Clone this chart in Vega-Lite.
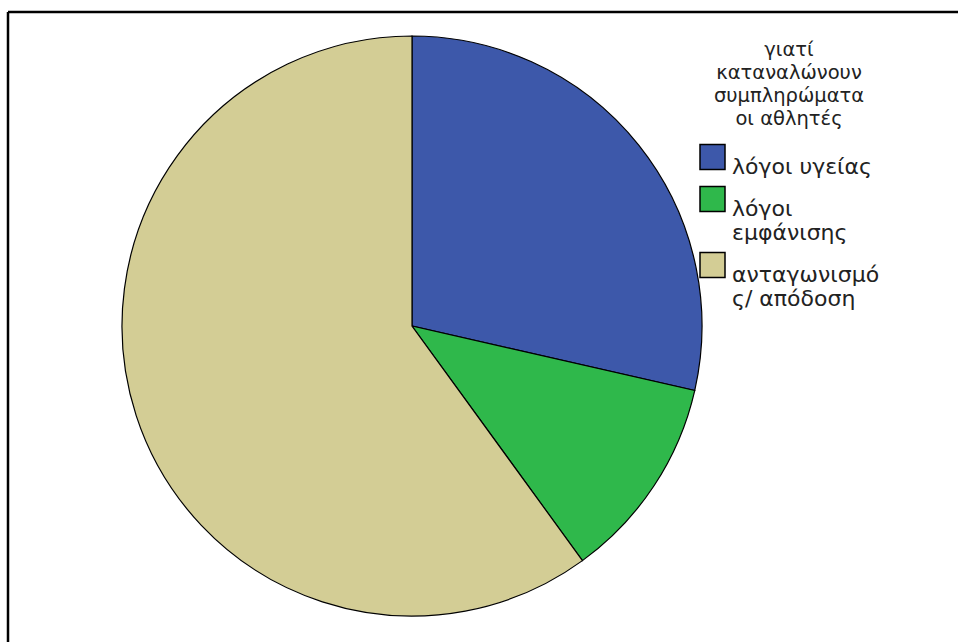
{
  "$schema": "https://vega.github.io/schema/vega-lite/v6.json",
  "width": 950,
  "height": 630,
  "autosize": {"type": "none"},
  "padding": {"left": 8, "top": 12, "right": 0, "bottom": 0},
  "background": "white",
  "view": {"stroke": "black", "strokeWidth": 2.5, "strokeDash": [950, 1580, 630, 0]},
  "config": {
    "view": {"stroke": "black", "strokeWidth": 2.5, "strokeDash": [950, 1580, 630, 0]},
    "font": "DejaVu Sans"
  },
  "data": {
    "values": [
      {"reason": "λόγοι υγείας", "count": 10, "order": 1},
      {"reason": "λόγοι εμφάνισης", "count": 4, "order": 2},
      {"reason": "ανταγωνισμός/ απόδοση", "count": 21, "order": 3}
    ]
  },
  "mark": {"type": "arc", "outerRadius": 290, "stroke": "black", "strokeWidth": 1.2, "x": 404, "y": 314},
  "encoding": {
    "theta": {"field": "count", "type": "quantitative", "stack": true},
    "order": {"field": "order", "type": "quantitative"},
    "color": {
      "field": "reason",
      "type": "nominal",
      "scale": {
        "domain": ["λόγοι υγείας", "λόγοι εμφάνισης", "ανταγωνισμός/ απόδοση"],
        "range": ["#3d58aa", "#2fb84b", "#d3cd95"]
      },
      "legend": {
        "orient": "none",
        "legendX": 691,
        "legendY": 29,
        "title": ["γιατί", "καταναλώνουν", "συμπληρώματα", "οι αθλητές"],
        "titleFontSize": 19.5,
        "titleFontWeight": "normal",
        "titleColor": "#222222",
        "titleAnchor": "middle",
        "titleAlign": "center",
        "titleLineHeight": 23,
        "titlePadding": 14,
        "labelFontSize": 22,
        "labelColor": "#222222",
        "labelLimit": 300,
        "labelOffset": 6,
        "labelBaseline": "top",
        "labelExpr": "datum.label == 'λόγοι εμφάνισης' ? ['λόγοι', 'εμφάνισης'] : datum.label == 'ανταγωνισμός/ απόδοση' ? ['ανταγωνισμό', 'ς/  απόδοση'] : datum.label",
        "symbolType": "square",
        "symbolSize": 625,
        "symbolStrokeColor": "black",
        "symbolStrokeWidth": 1.5,
        "symbolOpacity": 1,
        "rowPadding": 5
      }
    }
  }
}
